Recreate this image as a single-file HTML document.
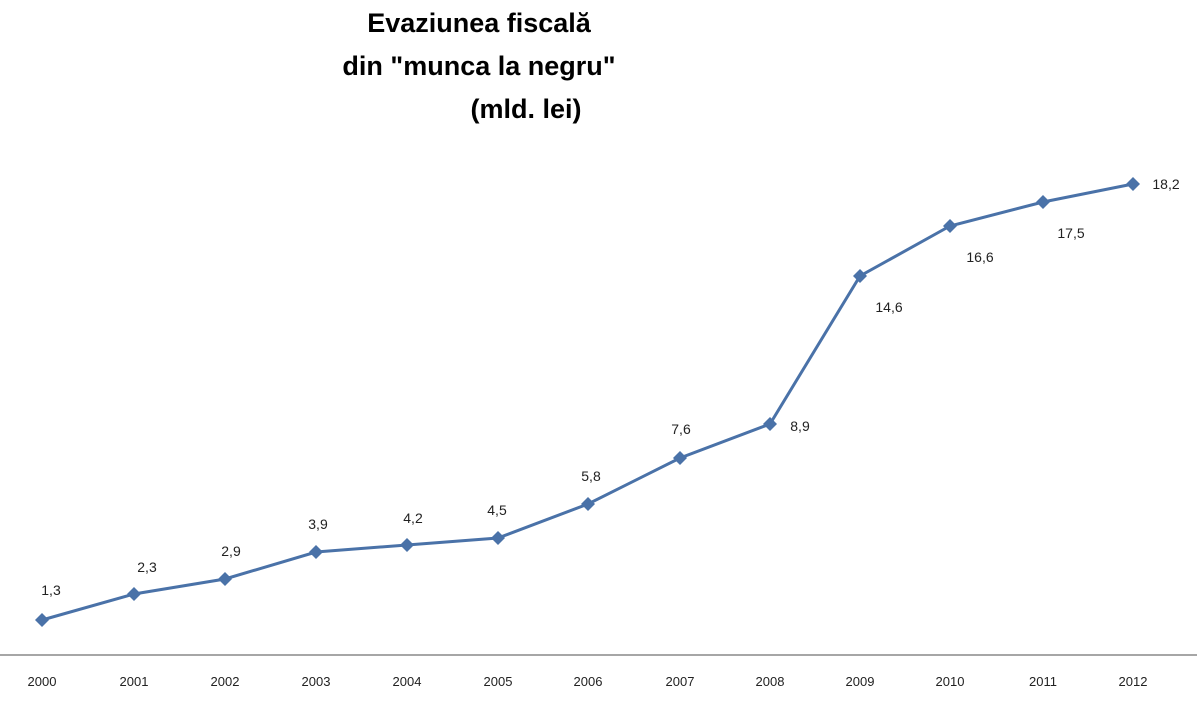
<!DOCTYPE html><html><head><style>body{margin:0;background:#fff}</style></head><body>
<svg width="1197" height="700" xmlns="http://www.w3.org/2000/svg" font-family="Liberation Sans, sans-serif">
<rect width="1197" height="700" fill="#fff"/>
<g text-anchor="middle" font-weight="bold" font-size="27" fill="#000">
<text x="479" y="32">Evaziunea fiscală</text>
<text x="479" y="75">din "munca la negru"</text>
<text x="526" y="118">(mld. lei)</text>
</g>
<line x1="0" y1="655" x2="1197" y2="655" stroke="#a6a6a6" stroke-width="2"/>
<g font-size="13" fill="#222" text-anchor="middle">
<text x="42" y="686">2000</text><text x="134" y="686">2001</text><text x="225" y="686">2002</text><text x="316" y="686">2003</text><text x="407" y="686">2004</text><text x="498" y="686">2005</text><text x="588" y="686">2006</text><text x="680" y="686">2007</text><text x="770" y="686">2008</text><text x="860" y="686">2009</text><text x="950" y="686">2010</text><text x="1043" y="686">2011</text><text x="1133" y="686">2012</text>
</g>
<polyline fill="none" stroke="#4a72a8" stroke-width="3" points="42,620 134,594 225,579 316,552 407,545 498,538 588,504 680,458 770,424 860,276 950,226 1043,202 1133,184"/>
<g fill="#4a72a8">
<path d="M42,613l7,7l-7,7l-7,-7z"/><path d="M134,587l7,7l-7,7l-7,-7z"/><path d="M225,572l7,7l-7,7l-7,-7z"/><path d="M316,545l7,7l-7,7l-7,-7z"/><path d="M407,538l7,7l-7,7l-7,-7z"/><path d="M498,531l7,7l-7,7l-7,-7z"/><path d="M588,497l7,7l-7,7l-7,-7z"/><path d="M680,451l7,7l-7,7l-7,-7z"/><path d="M770,417l7,7l-7,7l-7,-7z"/><path d="M860,269l7,7l-7,7l-7,-7z"/><path d="M950,219l7,7l-7,7l-7,-7z"/><path d="M1043,195l7,7l-7,7l-7,-7z"/><path d="M1133,177l7,7l-7,7l-7,-7z"/>
</g>
<g font-size="14" fill="#222" text-anchor="middle">
<text x="51" y="595">1,3</text><text x="147" y="572">2,3</text><text x="231" y="556">2,9</text><text x="318" y="529">3,9</text><text x="413" y="523">4,2</text><text x="497" y="515">4,5</text><text x="591" y="481">5,8</text><text x="681" y="434">7,6</text><text x="800" y="431">8,9</text><text x="889" y="312">14,6</text><text x="980" y="262">16,6</text><text x="1071" y="238">17,5</text><text x="1166" y="189">18,2</text>
</g>
</svg>
</body></html>
